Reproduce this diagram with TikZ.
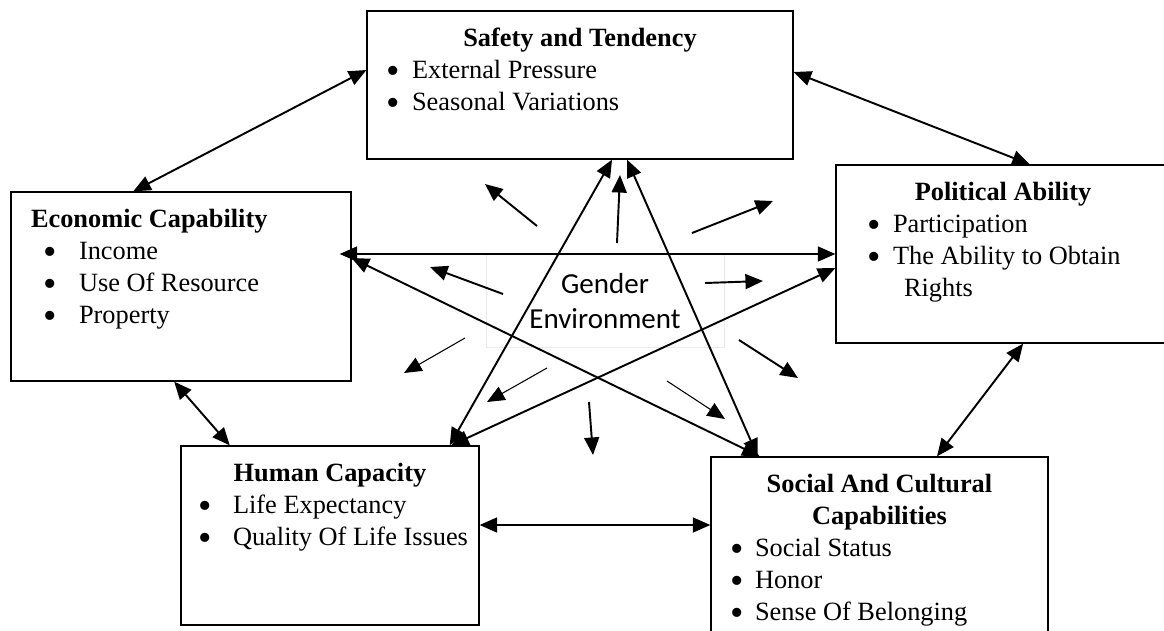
\documentclass[tikz,border=0pt]{standalone}
\usepackage{fontspec}
\setmainfont{Liberation Serif}
\newfontfamily\genderfont{Carlito}
\usetikzlibrary{arrows.meta,calc,positioning}
\tikzset{
capbox/.style = {draw, fill=white, rectangle, inner sep=0pt, line width=0.75pt, font=\fontsize{15}{18.3}\selectfont},
centre/.style = {draw=black!8, rectangle, align=center, minimum width=4.76cm, minimum height=1.86cm, font=\genderfont\fontsize{16.5}{20}\selectfont},
link/.style = {<->, line width=1.1pt},
ray/.style = {->, line width=1.1pt},
thinray/.style = {->, line width=0.6pt},
}
\newcommand{\capitem}[3]{\par\hspace*{#1}\makebox[0pt]{\raisebox{-3pt}{\scalebox{1.45}{\textbullet}}}\hspace*{#2}#3}
\newcommand{\captitle}[1]{\rule{0pt}{0.7cm}\textbf{#1}}
\begin{document}
\begin{tikzpicture}[x=0.02cm,y=-0.02cm,>={Triangle[length=10pt,width=8.5pt]}]
        \useasboundingbox (0,0) rectangle (1164,630);
        \clip (0,0) rectangle (1164,630);
        \node [centre] (gender) at (605,301) {Gender\\Environment};
        %top
        \node [capbox] (safety) at (580,85) {\begin{minipage}[c][2.96cm][t]{8.52cm}
            \centering\captitle{Safety and Tendency}\par\raggedright
            \capitem{0.52cm}{0.38cm}{External Pressure}
            \capitem{0.52cm}{0.38cm}{Seasonal Variations}
            \end{minipage}};
        %left
        \node [capbox] (econ) at (181,286.5) {\begin{minipage}[c][3.78cm][t]{6.8cm}
            \raggedright\hspace*{0.4cm}\captitle{Economic Capability}
            \capitem{0.78cm}{0.58cm}{Income}
            \capitem{0.78cm}{0.58cm}{Use Of Resource}
            \capitem{0.78cm}{0.58cm}{Property}
            \end{minipage}};
        %right
        \node [capbox] (polit) at (1003,254) {\begin{minipage}[c][3.56cm][t]{6.68cm}
            \centering\captitle{Political Ability}\par\raggedright
            \capitem{0.76cm}{0.38cm}{Participation}
            \capitem{0.76cm}{0.38cm}{The Ability to Obtain}
            \par\hspace*{1.36cm}Rights
            \end{minipage}};
        %bottom left
        \node [capbox] (human) at (330,535.5) {\begin{minipage}[c][3.58cm][t]{5.96cm}
            \centering\captitle{Human Capacity}\par\raggedright
            \capitem{0.48cm}{0.56cm}{Life Expectancy}
            \capitem{0.48cm}{0.56cm}{Quality Of Life Issues}
            \end{minipage}};
        %bottom right
        \node [capbox] (social) at (879.5,551) {\begin{minipage}[c][3.76cm][t]{6.74cm}
            \centering\captitle{Social And Cultural}\\\textbf{Capabilities}\par\raggedright
            \capitem{0.52cm}{0.36cm}{Social Status}
            \capitem{0.52cm}{0.36cm}{Honor}
            \capitem{0.52cm}{0.36cm}{Sense Of Belonging}
            \end{minipage}};

        %outer ring
        \draw [link] ([yshift=0.3cm]safety.west) -- ($(econ.north west)!0.36!(econ.north east)$);
        \draw [link] ([yshift=0.26cm]safety.east) -- ($(polit.north west)!0.58!(polit.north east)$);
        \draw [link] ($(polit.south west)!0.56!(polit.south east)$) -- ($(social.north west)!0.67!(social.north east)$);
        \draw [link] ($(econ.south west)!0.48!(econ.south east)$) -- ($(human.north west)!0.165!(human.north east)$);
        \coordinate (hs) at ([yshift=0.21cm]human.east);
        \draw [link] (hs) -- (social.west |- hs);
        %star
        \draw [link] ([xshift=-0.24cm]econ.east |- polit.west) -- (polit.west);
        \draw [link] ([yshift=0.57cm]econ.east) -- ($(social.north west)!0.146!(social.north east)$);
        \draw [link] ($(safety.south west)!0.575!(safety.south east)$) -- ($(human.north west)!0.9!(human.north east)$);
        \draw [link] ($(safety.south west)!0.61!(safety.south east)$) -- ($(social.north west)!0.14!(social.north east)$);
        \draw [link] ($(human.north west)!0.905!(human.north east)$) -- ([yshift=-0.28cm]polit.west);

        %rays out of the centre
        \foreach \n/\sx/\sy/\ex/\ey/\w in {a/537/226/485/184/ray, b/617/243/620/175/ray,
            c/692/233/773/201/ray, d/503/294/430/267/ray, e/705/283/763/281/ray,
            f/465/338/404/373/thinray, g/739/340/798/378/ray, h/547/368/487/402/thinray,
            i/667/381/725/419/thinray, j/589/402/593/455/ray}{
            \coordinate (rs\n) at (\sx,\sy);
            \coordinate (re\n) at (\ex,\ey);
            \draw [\w] (rs\n) -- (re\n);
        }
\end{tikzpicture}
\end{document}
